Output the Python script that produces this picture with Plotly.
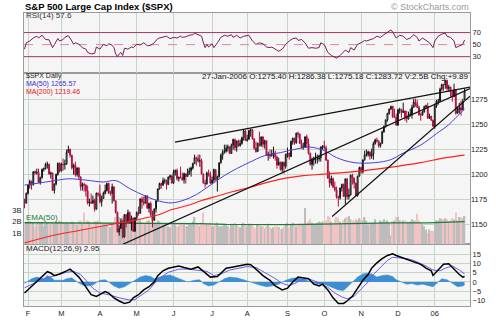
import plotly.graph_objects as go
import pandas as pd

# ---------------- categories ----------------
holidays = ['2005-02-21', '2005-03-25', '2005-05-30', '2005-07-04', '2005-09-05',
            '2005-11-24', '2005-12-26', '2006-01-02', '2006-01-16']
dates = [d for d in pd.bdate_range('2005-01-28', '2006-01-27')
         if d.strftime('%Y-%m-%d') not in holidays]
month_labels = ['F', 'M', 'A', 'M', 'J', 'J', 'A', 'S', 'O', 'N', 'D', '06']

# ---------------- daily OHLC ($SPX) ----------------
opens = [1174.6, 1171.4,
1181.3, 1189.4, 1193.2, 1189.9, 1203.0, 1201.7, 1202.3, 1192.0, 1197.0, 1205.3, 1206.1, 1210.1, 1210.3, 1200.8, 1201.6, 1184.2, 1190.8, 1200.2, 1211.4,
1203.6, 1210.4, 1210.1, 1210.5, 1222.1, 1225.3, 1219.4, 1207.0, 1209.3, 1200.1, 1206.8, 1197.8, 1188.1, 1190.2, 1189.7, 1183.8, 1171.7, 1172.5, 1171.4, 1174.3, 1165.4, 1181.4,
1180.6, 1172.9, 1176.1, 1181.4, 1184.1, 1191.1, 1181.2, 1181.2, 1187.8, 1173.8, 1162.1, 1142.6, 1146.0, 1152.8, 1137.5, 1160.0, 1152.1, 1162.1, 1151.8, 1156.4, 1143.2,
1156.9, 1162.2, 1161.2, 1175.7, 1172.6, 1171.4, 1178.8, 1166.2, 1171.1, 1159.4, 1154.1, 1165.7, 1173.8, 1185.6, 1191.1, 1189.3, 1193.9, 1194.1, 1190.0, 1197.6, 1198.8,
1191.5, 1202.2, 1204.3, 1196.0, 1197.5, 1197.3, 1194.7, 1200.9, 1198.1, 1200.8, 1203.9, 1206.6, 1211.0, 1217.0, 1216.1, 1213.6, 1213.9, 1200.7, 1191.6, 1190.7, 1201.6, 1199.9,
1191.3, 1194.4, 1205.0, 1194.9, 1197.9, 1211.9, 1219.4, 1222.2, 1223.3, 1226.5, 1227.9, 1221.1, 1229.4, 1235.2, 1227.0, 1233.7, 1229.0, 1231.2, 1236.8, 1243.7,
1234.2, 1235.4, 1244.1, 1245.0, 1235.9, 1226.4, 1223.1, 1231.4, 1229.1, 1237.8, 1230.4, 1233.9, 1219.3, 1220.2, 1219.0, 1219.7, 1221.7, 1217.6, 1209.6, 1212.4, 1205.1, 1212.3, 1208.4,
1220.3, 1221.6, 1218.0, 1233.4, 1236.4, 1231.7, 1241.5, 1240.6, 1231.2, 1227.2, 1227.7, 1237.9, 1231.0, 1221.3, 1210.2, 1214.6, 1215.3, 1215.6, 1215.7, 1216.9, 1227.7,
1228.8, 1226.7, 1214.5, 1196.4, 1191.5, 1195.9, 1187.3, 1184.9, 1177.7, 1176.8, 1186.6, 1190.1, 1178.1, 1195.8, 1177.8, 1179.6, 1199.4, 1196.5, 1191.4, 1178.9, 1198.4,
1207.0, 1202.8, 1214.8, 1219.9, 1220.1, 1222.8, 1218.6, 1220.7, 1231.0, 1234.7, 1233.8, 1229.0, 1231.2, 1242.8, 1248.3, 1254.9, 1261.2, 1265.6, 1268.3, 1257.5, 1257.5,
1249.5, 1264.7, 1265.1, 1262.1, 1263.7, 1257.4, 1255.8, 1259.4, 1260.4, 1267.4, 1272.7, 1270.9, 1267.3, 1259.9, 1259.6, 1262.8, 1268.1, 1268.7, 1256.5, 1258.2, 1254.4,
1248.3, 1268.8, 1273.5, 1273.5, 1285.5, 1290.2, 1289.7, 1294.2, 1286.1, 1287.6, 1282.9, 1277.9, 1285.0, 1261.5, 1263.8, 1266.9, 1264.7, 1275.4]

highs = [1175.9, 1182,
1190, 1195, 1194, 1203, 1204, 1206, 1206, 1198, 1206, 1207, 1212, 1213, 1211, 1203, 1202, 1191, 1201, 1212, 1212,
1212, 1216, 1215, 1225, 1229, 1226, 1220, 1211, 1213, 1207, 1207, 1198, 1192, 1192, 1190, 1189, 1176, 1181, 1179, 1176, 1182, 1182,
1190, 1179, 1183, 1190, 1192, 1192, 1184, 1191, 1188, 1174, 1163, 1149, 1156, 1155, 1160, 1160, 1165, 1163, 1159, 1157, 1157,
1163, 1168, 1176, 1178, 1178, 1179, 1179, 1172, 1173, 1164, 1166, 1174, 1186, 1192, 1192, 1197, 1196, 1195, 1198, 1200, 1199,
1205, 1205, 1206, 1198, 1208, 1202, 1202, 1201, 1206, 1207, 1208, 1212, 1220, 1218, 1220, 1220, 1216, 1201, 1195, 1203, 1205, 1203,
1198, 1206, 1205, 1199, 1212, 1221, 1225, 1230, 1230, 1230, 1228, 1231, 1236, 1236, 1234, 1235, 1235, 1238, 1245, 1245,
1240, 1245, 1246, 1245, 1236, 1233, 1232, 1243, 1238, 1238, 1235, 1234, 1223, 1225, 1225, 1228, 1224, 1219, 1217, 1213, 1213, 1213, 1221,
1227, 1222, 1234, 1237, 1237, 1242, 1243, 1241, 1235, 1232, 1238, 1240, 1236, 1222, 1217, 1218, 1222, 1220, 1220, 1228, 1229,
1234, 1229, 1215, 1203, 1199, 1197, 1193, 1188, 1179, 1187, 1191, 1191, 1196, 1196, 1186, 1200, 1201, 1197, 1192, 1199, 1208,
1208, 1215, 1224, 1225, 1224, 1223, 1226, 1233, 1236, 1237, 1234, 1232, 1244, 1249, 1255, 1262, 1266, 1269, 1269, 1266, 1261,
1266, 1267, 1266, 1272, 1264, 1264, 1263, 1266, 1270, 1276, 1276, 1275, 1269, 1262, 1264, 1269, 1270, 1272, 1261, 1259, 1255,
1271, 1275, 1276, 1287, 1291, 1291, 1295, 1295, 1290, 1288, 1284, 1291, 1285, 1268, 1272, 1274, 1276, 1286.4]

lows = [1166.3, 1171,
1180, 1186, 1185, 1189, 1200, 1200, 1192, 1190, 1196, 1203, 1205, 1206, 1200, 1196, 1184, 1181, 1189, 1199, 1202,
1203, 1204, 1205, 1210, 1222, 1217, 1205, 1200, 1198, 1198, 1195, 1184, 1184, 1183, 1178, 1170, 1168, 1171, 1171, 1163, 1165, 1178,
1171, 1168, 1176, 1180, 1183, 1181, 1179, 1171, 1173, 1161, 1142, 1139, 1146, 1136, 1137, 1147, 1152, 1151, 1144, 1143, 1143,
1154, 1159, 1161, 1166, 1169, 1171, 1166, 1162, 1159, 1147, 1154, 1162, 1173, 1185, 1186, 1189, 1191, 1185, 1190, 1195, 1191,
1191, 1199, 1194, 1193, 1196, 1194, 1191, 1191, 1198, 1200, 1198, 1205, 1211, 1209, 1212, 1208, 1200, 1191, 1187, 1190, 1198, 1191,
1191, 1192, 1194, 1183, 1197, 1211, 1215, 1221, 1222, 1223, 1221, 1221, 1225, 1224, 1223, 1228, 1228, 1230, 1234, 1234,
1233, 1235, 1238, 1235, 1225, 1222, 1223, 1228, 1228, 1227, 1226, 1219, 1214, 1216, 1218, 1216, 1214, 1206, 1209, 1204, 1202, 1201, 1206,
1217, 1215, 1218, 1230, 1230, 1231, 1237, 1231, 1226, 1225, 1227, 1227, 1220, 1209, 1205, 1209, 1211, 1211, 1213, 1213, 1225,
1225, 1214, 1196, 1187, 1189, 1187, 1183, 1176, 1168, 1175, 1183, 1178, 1170, 1175, 1175, 1179, 1190, 1186, 1178, 1178, 1198,
1201, 1201, 1214, 1218, 1218, 1215, 1216, 1215, 1230, 1232, 1227, 1227, 1231, 1242, 1247, 1253, 1260, 1265, 1257, 1257, 1249,
1249, 1261, 1257, 1262, 1254, 1252, 1255, 1258, 1256, 1267, 1268, 1267, 1259, 1254, 1259, 1262, 1266, 1256, 1256, 1254, 1248,
1246, 1267, 1270, 1273, 1284, 1284, 1286, 1284, 1283, 1278, 1273, 1278, 1260, 1261, 1261, 1259, 1265, 1275.2]

closes = [1171.4, 1181.3,
1189.4, 1193.2, 1189.9, 1203.0, 1201.7, 1202.3, 1192.0, 1197.0, 1205.3, 1206.1, 1210.1, 1210.3, 1200.8, 1201.6, 1184.2, 1190.8, 1200.2, 1211.4, 1203.6,
1210.4, 1210.1, 1210.5, 1222.1, 1225.3, 1219.4, 1207.0, 1209.3, 1200.1, 1206.8, 1197.8, 1188.1, 1190.2, 1189.7, 1183.8, 1171.7, 1172.5, 1171.4, 1174.3, 1165.4, 1181.4, 1180.6,
1172.9, 1176.1, 1181.4, 1184.1, 1191.1, 1181.2, 1181.2, 1187.8, 1173.8, 1162.1, 1142.6, 1146.0, 1152.8, 1137.5, 1160.0, 1152.1, 1162.1, 1151.8, 1156.4, 1143.2, 1156.9,
1162.2, 1161.2, 1175.7, 1172.6, 1171.4, 1178.8, 1166.2, 1171.1, 1159.4, 1154.1, 1165.7, 1173.8, 1185.6, 1191.1, 1189.3, 1193.9, 1194.1, 1190.0, 1197.6, 1198.8, 1191.5,
1202.2, 1204.3, 1196.0, 1197.5, 1197.3, 1194.7, 1200.9, 1198.1, 1200.8, 1203.9, 1206.6, 1211.0, 1217.0, 1216.1, 1213.6, 1213.9, 1200.7, 1191.6, 1190.7, 1201.6, 1199.9, 1191.3,
1194.4, 1205.0, 1194.9, 1197.9, 1211.9, 1219.4, 1222.2, 1223.3, 1226.5, 1227.9, 1221.1, 1229.4, 1235.2, 1227.0, 1233.7, 1229.0, 1231.2, 1236.8, 1243.7, 1234.2,
1235.4, 1244.1, 1245.0, 1235.9, 1226.4, 1223.1, 1231.4, 1229.1, 1237.8, 1230.4, 1233.9, 1219.3, 1220.2, 1219.0, 1219.7, 1221.7, 1217.6, 1209.6, 1212.4, 1205.1, 1212.3, 1208.4, 1220.3,
1221.6, 1218.0, 1233.4, 1236.4, 1231.7, 1241.5, 1240.6, 1231.2, 1227.2, 1227.7, 1237.9, 1231.0, 1221.3, 1210.2, 1214.6, 1215.3, 1215.6, 1215.7, 1216.9, 1227.7, 1228.8,
1226.7, 1214.5, 1196.4, 1191.5, 1195.9, 1187.3, 1184.9, 1177.7, 1176.8, 1186.6, 1190.1, 1178.1, 1195.8, 1177.8, 1179.6, 1199.4, 1196.5, 1191.4, 1178.9, 1198.4, 1207.0,
1202.8, 1214.8, 1219.9, 1220.1, 1222.8, 1218.6, 1220.7, 1231.0, 1234.7, 1233.8, 1229.0, 1231.2, 1242.8, 1248.3, 1254.9, 1261.2, 1265.6, 1268.3, 1257.5, 1257.5, 1249.5,
1264.7, 1265.1, 1262.1, 1263.7, 1257.4, 1255.8, 1259.4, 1260.4, 1267.4, 1272.7, 1270.9, 1267.3, 1259.9, 1259.6, 1262.8, 1268.1, 1268.7, 1256.5, 1258.2, 1254.4, 1248.3,
1268.8, 1273.5, 1273.5, 1285.5, 1290.2, 1289.7, 1294.2, 1286.1, 1287.6, 1282.9, 1277.9, 1285.0, 1261.5, 1263.8, 1266.9, 1264.7, 1273.8, 1283.7]

# volume, billions of shares
volumes = [1.8, 1.9,
2.0, 2.0, 1.8, 1.9, 1.6, 1.8, 2.0, 1.9, 1.9, 1.6, 1.8, 1.9, 1.8, 1.7, 1.9, 1.8, 2.0, 1.9, 2.1,
2.0, 1.9, 1.8, 1.9, 1.8, 1.9, 2.0, 1.9, 1.7, 1.7, 2.0, 2.1, 1.8, 2.8, 1.7, 2.1, 2.0, 1.8, 1.6, 2.0, 2.0, 2.1,
2.0, 1.6, 1.8, 1.8, 1.7, 1.6, 1.5, 1.9, 1.9, 2.4, 2.7, 2.4, 2.3, 2.5, 2.3, 2.0, 1.8, 1.9, 1.9, 2.2, 2.3,
1.9, 2.1, 2.2, 1.9, 1.7, 1.8, 2.1, 2.1, 1.8, 2.4, 1.9, 1.9, 2.1, 2.0, 1.7, 1.7, 1.8, 1.8, 1.6, 1.5, 1.8,
1.9, 1.9, 1.6, 1.6, 1.8, 1.8, 1.7, 1.6, 1.6, 1.8, 1.8, 2.0, 2.4, 1.7, 1.7, 1.6, 1.9, 2.8, 1.7, 1.7, 1.8, 1.9,
1.6, 1.6, 1.7, 1.9, 1.6, 1.6, 1.6, 1.7, 1.7, 1.6, 1.4, 1.8, 1.8, 1.9, 1.7, 1.6, 1.5, 1.7, 1.9, 1.7,
1.6, 1.8, 1.8, 1.7, 1.5, 1.4, 1.7, 1.8, 1.6, 1.6, 1.4, 1.6, 1.8, 1.5, 1.4, 1.5, 1.6, 1.6, 1.5, 1.3, 1.4, 1.6, 1.8,
1.9, 1.5, 1.8, 1.9, 1.8, 1.6, 1.7, 1.8, 1.8, 1.7, 3.2, 1.8, 2.0, 2.2, 1.9, 1.7, 1.8, 1.9, 2.0, 1.9, 2.0,
2.0, 2.1, 2.5, 2.4, 2.0, 1.8, 2.2, 2.4, 2.3, 2.0, 1.8, 2.1, 2.3, 2.4, 2.5, 2.2, 2.1, 2.1, 2.2, 2.1, 2.3,
2.2, 2.1, 2.4, 2.1, 1.7, 1.9, 1.8, 1.9, 2.2, 1.8, 1.8, 2.1, 2.0, 2.2, 2.0, 2.1, 1.9, 0.8, 2.0, 2.1, 2.4,
2.4, 2.1, 2.0, 2.1, 2.1, 2.0, 1.9, 2.0, 2.2, 2.1, 2.1, 2.7, 2.1, 1.9, 1.8, 1.6, 1.3, 1.0, 1.3, 1.2, 1.2,
1.8, 2.1, 2.1, 2.3, 2.2, 2.2, 2.3, 2.2, 2.0, 2.1, 2.3, 2.2, 2.8, 2.1, 2.4, 2.4, 2.3, 2.5]

# ---------------- overlays (bar index, value) ----------------
ma50_k = [0, 8, 16, 25, 35, 45, 52, 60, 69, 77, 84, 91, 98, 104, 114, 121, 128, 137, 146, 156,
          163, 171, 178, 188, 200, 209, 216, 226, 235, 242, 246, 251]
ma50_v = [1189.5, 1191.5, 1193.6, 1195.8, 1194.5, 1192.6, 1194.0, 1186.0, 1178.5, 1173.4,
          1171.7, 1174.5, 1180.0, 1187.0, 1199.0, 1206.0, 1212.0, 1219.0, 1222.0, 1226.0,
          1227.5, 1224.0, 1217.0, 1212.0, 1212.0, 1215.0, 1221.6, 1229.6, 1241.0, 1250.0, 1257.0, 1265.6]
ma200_k = [0, 16, 31, 43, 54, 65, 76, 84, 93, 101, 111, 119, 127, 138, 149, 159, 171, 188, 207, 226, 239, 251]
ma200_v = [1131.5, 1139.0, 1144.0, 1148.0, 1151.5, 1155.0, 1159.5, 1165.0, 1169.0, 1174.0, 1179.0,
           1183.0, 1186.5, 1192.0, 1196.5, 1199.0, 1200.5, 1203.0, 1207.0, 1212.0, 1216.5, 1219.5]
vema_k = [0, 40, 70, 100, 115, 130, 150, 170, 190, 210, 230, 251]
vema_v = [1.9, 1.88, 1.87, 1.82, 1.75, 1.72, 1.73, 1.78, 1.85, 1.88, 1.88, 2.0]

# trendlines drawn on the chart: (bar index, price) endpoints
trend_upper_k = [85.8, 254.1]
trend_upper_p = [1232.5, 1287.7]
trend_long_k = [50.8, 254.1]
trend_long_p = [1126.1, 1286.1]
trend_steep_k = [175.5, 254.1]
trend_steep_p = [1158.0, 1278.5]

# ---------------- RSI(14) ----------------
rsi_k = [0, 1, 3, 5, 7, 8, 10, 12, 14, 16, 17, 18, 19, 20, 22, 23, 25, 27, 28, 29,
         31, 33, 35, 36, 38, 40, 41, 43, 45, 47, 48, 50, 51, 52, 53, 54, 55, 56, 57, 59,
         61, 62, 64, 66, 68, 70, 72, 74, 76, 77, 79, 81, 83, 85, 87, 89, 90, 92, 94, 96,
         97, 99, 101, 102, 103, 104, 105, 107, 108, 110, 112, 114, 116, 118, 119, 121, 123, 125, 128, 130,
         132, 134, 136, 138, 140, 141, 143, 145, 147, 149, 151, 153, 155, 156, 158, 160, 162, 164, 166, 168,
         169, 171, 173, 175, 177, 178, 180, 182, 183, 185, 186, 188, 190, 192, 194, 195, 197, 199, 201, 203,
         205, 207, 209, 210, 212, 214, 216, 218, 220, 222, 224, 225, 227, 229, 231, 233, 234, 236, 238, 240,
         241, 243, 245, 246, 248, 250, 251]
rsi_v = [42.5, 53, 56, 61, 64, 61, 65.5, 58.5, 58, 45, 50, 55, 60, 56, 58.5, 62, 65, 56, 50.5, 53,
         50.5, 45, 42.5, 37, 34.5, 35.5, 46, 42.5, 50.5, 48, 51.5, 49, 45, 34.5, 30, 34.5, 37, 32, 44, 42.5,
         46, 45, 50.5, 49.5, 53, 48, 49, 53, 60, 61, 62, 64, 60, 62, 61, 64, 62, 63, 65.5, 66.5,
         69, 66.5, 64, 53, 45, 50.5, 46, 51.5, 45, 53, 62, 65.5, 64, 66.5, 62, 65.5, 61, 64, 65.5, 56,
         50.5, 53, 51.5, 46, 45, 46, 42.5, 39, 42.5, 50.5, 56, 60, 61, 57, 58.5, 53, 44, 45, 44, 45,
         53, 50, 37, 32, 29, 27.5, 32, 37, 41, 37, 45, 41, 50.5, 53, 57, 56, 58.5, 60, 64, 62,
         66.5, 71, 74.5, 71, 61, 65.5, 64, 58.5, 61, 66.5, 62, 56, 61, 57, 53, 45, 56, 64, 67.5, 69,
         64, 62, 56, 45, 48, 50.5, 57.6]
rsi_levels = [30, 50, 70]

# ---------------- MACD(12,26,9) ----------------
macd_k = [0, 3, 6, 9, 13, 15, 17, 20, 24, 26, 28, 31, 33, 36, 38, 41, 43, 46, 48, 51,
          54, 57, 60, 62, 65, 68, 71, 74, 76, 79, 82, 85, 88, 91, 95, 99, 103, 106, 110, 113,
          115, 119, 123, 127, 129, 131, 132, 136, 140, 143, 147, 150, 153, 156, 159, 162, 165, 168, 170, 173,
          176, 179, 182, 184, 187, 190, 193, 196, 198, 201, 204, 207, 210, 212, 215, 218, 221, 224, 226, 229,
          232, 233, 235, 237, 239, 242, 243, 246, 248, 250, 251]
macd_v = [-6, -3.5, -0.5, 2.0, 5.5, 4.8, 3.4, 4.3, 6.0, 6.9, 5.2, 2.6, 0, -4.3, -6.9, -7.8, -6.9, -5.2, -6.0, -8.6,
          -10.3, -11.6, -10.9, -8.6, -6.9, -4.3, -2.6, 0, 3.4, 6.0, 7.4, 8.1, 8.6, 7.8, 6.9, 8.1, 5.0, 2.6, 2.9, 5.7,
          7.4, 8.1, 8.6, 9.5, 9.3, 8.0, 6.9, 3.4, 0.9, -2.2, -4.3, -3.4, 0, 2.6, 2.2, 1.7, -1.2, -2.2, -1.2, -4.3,
          -8.6, -11.6, -11.6, -10.3, -7.8, -3.4, 0.9, 4.0, 7.4, 10.3, 12.6, 14.3, 15.2, 14.3, 13.3, 12.6, 11.2, 10.3, 9.5, 7.4,
          6.0, 3.5, 5.5, 7.5, 9.5, 9.8, 8.8, 6.0, 4.0, 2.6, 2.95]
signal_k = [0, 9, 17, 24, 28, 32, 35, 39, 43, 48, 54, 60, 63, 67, 71, 74, 78, 82, 88, 93,
            99, 104, 108, 112, 117, 123, 127, 132, 138, 143, 147, 151, 155, 158, 162, 166, 169, 173, 177, 181,
            184, 188, 192, 196, 199, 203, 207, 210, 214, 218, 222, 225, 229, 233, 237, 240, 244, 248, 251]
signal_v = [-3.2, 0.9, 3.4, 5.2, 5.7, 4.0, 0.9, -3.4, -6.0, -6.9, -8.6, -9.8, -9.5, -6.9, -4.3, -0.9, 2.6, 5.2, 6.9, 6.9,
            6.4, 5.7, 3.4, 4.3, 6.4, 7.4, 8.3, 7.8, 4.6, 1.8, -0.8, -2.0, -0.5, 1.2, 1.7, 0.3, -0.8, -2.9, -6.0, -8.1,
            -9.1, -7.8, -4.0, 0, 4.0, 7.8, 11.6, 13.3, 12.9, 12.6, 11.6, 10.3, 8.6, 6.4, 6.0, 7.4, 8.6, 6.4, 4.3]
hist_k = [0, 4, 7, 11, 13, 15, 17, 19, 22, 24, 27, 30, 33, 36, 39, 43, 46, 48, 51, 54,
          57, 60, 63, 66, 69, 72, 74, 77, 80, 83, 86, 89, 93, 97, 100, 102, 105, 108, 111, 114,
          117, 121, 125, 127, 130, 134, 138, 141, 145, 149, 153, 156, 160, 164, 167, 171, 175, 179, 182, 184,
          187, 190, 193, 195, 198, 201, 204, 207, 210, 212, 215, 218, 221, 224, 227, 231, 233, 236, 238, 241,
          244, 247, 250, 251]
hist_v = [-0.9, 1.7, 2.6, 1.7, 3.4, 2.5, 0.9, 0.9, 0.9, 1.7, 2.2, 0, -1.7, -2.2, -1.7, 0.9, 1.2, 0, -2.2, -3.4,
          -2.6, -0.9, 0.9, 2.6, 3.4, 2.9, 1.7, 2.6, 3.4, 3.8, 2.6, 1.2, 0, 0.9, 1.2, -0.9, -2.2, -1.7, 0, 1.7,
          2.6, 2.2, 1.2, 0.5, -0.5, -1.7, -2.6, -2.2, -1.2, 0.9, 2.1, 2.2, 1.2, 0, -1.2, -1.2, -2.6, -4.3, -4.7, -2.9,
          0, 2.6, 4.3, 4.7, 4.3, 2.6, 3.4, 3.8, 2.9, 1.2, 0, -1.2, -0.9, -1.7, -1.2, -2.2, -2.6, 0, 1.7, 1.2,
          -0.9, -2.6, -2.2, -1.7]

# ---------------- build ----------------
idx = list(range(len(dates)))
month_starts = [i for i in range(1, len(dates))
                if (dates[i].year, dates[i].month) != (dates[i - 1].year, dates[i - 1].month)]

GRID = '#c5d6c5'
BORDER = '#9a9a9a'
XR = [-0.3, 254.1]
D1, D2 = 0.2105, 0.7961

fig = go.Figure()

# volume (base layer of the price panel)
vol_colors = ['#bdbdbd' if c >= o else '#f2c3c3' for o, c in zip(opens, closes)]
fig.add_trace(go.Bar(x=idx, y=volumes, xaxis='x2', yaxis='y2', width=0.8,
                     marker=dict(color=vol_colors, line=dict(width=0))))
fig.add_trace(go.Scatter(x=vema_k, y=vema_v, xaxis='x2', yaxis='y2', mode='lines',
                         line=dict(color='#1e7b3a', width=1.3)))

# price panel overlays
fig.add_trace(go.Scatter(x=ma200_k, y=ma200_v, xaxis='x2', yaxis='y3', mode='lines',
                         line=dict(color='#ff2020', width=1.1, shape='spline')))
fig.add_trace(go.Scatter(x=ma50_k, y=ma50_v, xaxis='x2', yaxis='y3', mode='lines',
                         line=dict(color='#4a3fd8', width=1.0, shape='spline')))
fig.add_trace(go.Candlestick(x=idx, open=opens, high=highs, low=lows, close=closes,
                             xaxis='x2', yaxis='y3', whiskerwidth=0,
                             increasing=dict(line=dict(color='#111111', width=1), fillcolor='#ffffff'),
                             decreasing=dict(line=dict(color='#b01040', width=1), fillcolor='#b01040')))
for tk, tp in [(trend_upper_k, trend_upper_p), (trend_long_k, trend_long_p), (trend_steep_k, trend_steep_p)]:
    fig.add_trace(go.Scatter(x=tk, y=tp, xaxis='x2', yaxis='y3', mode='lines',
                             line=dict(color='#111111', width=1.2)))

# RSI panel
for lvl in rsi_levels:
    fig.add_trace(go.Scatter(x=XR, y=[lvl, lvl], xaxis='x4', yaxis='y4', mode='lines',
                             line=dict(color='#d48aaa' if lvl == 50 else '#9c3a6a',
                                       width=1, dash='dash' if lvl == 50 else 'solid')))
fig.add_trace(go.Scatter(x=rsi_k, y=rsi_v, xaxis='x4', yaxis='y4', mode='lines',
                         line=dict(color='#7a1f4c', width=1)))

# MACD panel
fig.add_trace(go.Scatter(x=hist_k, y=hist_v, xaxis='x', yaxis='y', mode='lines', fill='tozeroy',
                         fillcolor='#3d8fd1', line=dict(color='#3d8fd1', width=0.5)))
fig.add_trace(go.Scatter(x=signal_k, y=signal_v, xaxis='x', yaxis='y', mode='lines',
                         line=dict(color='#6a5cf0', width=1)))
fig.add_trace(go.Scatter(x=macd_k, y=macd_v, xaxis='x', yaxis='y', mode='lines',
                         line=dict(color='#000000', width=1.5)))

xcommon = dict(range=XR, tickvals=month_starts, showgrid=True, gridcolor=GRID, gridwidth=1,
               showline=True, mirror=True, linecolor=BORDER, linewidth=1, ticks='', zeroline=False,
               fixedrange=True)
fig.update_layout(
    width=500, height=330, margin=dict(l=23, r=22, t=13, b=13),
    paper_bgcolor='white', plot_bgcolor='#f5f5f5', showlegend=False, hovermode=False,
    font=dict(family='Liberation Sans, Arial, sans-serif', size=8, color='#222222'),
    xaxis=dict(domain=[0, 1], anchor='y', ticktext=month_labels, tickfont=dict(size=7.5), **xcommon),
    xaxis2=dict(domain=[0, 1], anchor='y2', showticklabels=False, rangeslider=dict(visible=False), **xcommon),
    xaxis4=dict(domain=[0, 1], anchor='y4', showticklabels=False, **xcommon),
    yaxis=dict(domain=[0, D1], side='right', range=[-13.0, 20.3], tickvals=[-10, -5, 0, 5, 10, 15],
               showgrid=True, gridcolor=GRID, zeroline=False, showline=True, mirror=True,
               linecolor=BORDER, ticks='', tickfont=dict(size=7.5)),
    yaxis2=dict(domain=[D1, D2], side='left', range=[0, 15.1], tickvals=[1, 2, 3],
                ticktext=['1B', '2B', '3B'], showgrid=False, zeroline=False, showline=True,
                mirror=True, linecolor=BORDER, ticks='', tickfont=dict(size=7.5)),
    yaxis3=dict(overlaying='y2', side='right', range=[1130.2, 1302],
                tickvals=[1150, 1175, 1200, 1225, 1250, 1275], showgrid=True, gridcolor=GRID,
                zeroline=False, showline=False, ticks='', tickfont=dict(size=7.5)),
    yaxis4=dict(domain=[D2, 1], side='right', range=[3.3, 102.5], tickvals=rsi_levels,
                showgrid=False, zeroline=False, showline=True, mirror=True, linecolor=BORDER,
                ticks='', tickfont=dict(size=7.5)),
)

def py(px):
    return (317 - px) / 304.0

notes = [
    ('<b>S&amp;P 500 Large Cap Index ($SPX)</b>', 0.0, 6.5, 'left', 9.5, '#000000'),
    ('\u00a9 StockCharts.com', 1.0, 6.5, 'right', 9, '#9a9a9a'),
    ('RSI(14) 57.6', 0.002, 15.5, 'left', 8, '#333333'),
    ('$SPX Daily', 0.002, 77.9, 'left', 7, '#222222'),
    ('MA(50) 1265.57', 0.002, 86.4, 'left', 7, '#3a30d0'),
    ('MA(200) 1219.46', 0.002, 94.9, 'left', 7, '#e81010'),
    ('27-Jan-2006 O:1275.40 H:1286.38 L:1275.18 C:1283.72 V:2.5B Chg:+9.89', 0.997, 78.6, 'right', 8, '#111111'),
    ('EMA(50)', 0.002, 225.0, 'left', 8, '#1e7b3a'),
    ('MACD(12,26,9) 2.95', 0.002, 257.2, 'left', 8, '#222222'),
]
for text, x, ypx, anchor, size, color in notes:
    fig.add_annotation(text=text, xref='paper', yref='paper', x=x, y=py(ypx), xanchor=anchor,
                       yanchor='middle', showarrow=False, borderpad=0,
                       font=dict(size=size, color=color))

fig.write_html('out.html')
